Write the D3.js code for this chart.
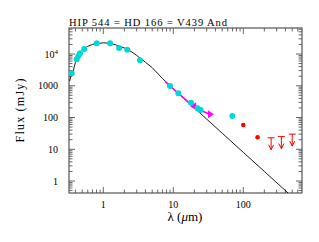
<!DOCTYPE html>
<html><head><meta charset="utf-8">
<script src="https://cdn.jsdelivr.net/npm/d3@7"></script>
<style>body{margin:0;background:#fff}svg{display:block}</style>
</head><body>
<script>
const title = "HIP 544 = HD 166 = V439 And";
const xTicks = [1, 10, 100];
const xTickLabels = ["1", "10", "100"];
const yTicks = [1, 10, 100, 1000, 10000];
const yTickLabels = ["1", "10", "100", "1000", "10^4"];

const modelLam = [0.33, 0.345, 0.36, 0.365, 0.37, 0.38, 0.40, 0.43, 0.47, 0.52, 0.6, 0.7, 0.85, 1.0, 1.2, 1.5, 2.0, 2.5, 3.0, 4.0, 5.0, 7.0, 10, 20, 50, 100, 200, 436];
const modelFlux = [1400, 2000, 2500, 2100, 2300, 3600, 5500, 8000, 11000, 14000, 17500, 20000, 21500, 22500, 22000, 19500, 15500, 12000, 9000, 5500, 3700, 1700, 800, 200, 32, 8, 2, 0.42];

const photLam = [0.354, 0.417, 0.44, 0.465, 0.535, 0.805, 1.25, 1.68, 2.2, 3.34, 8.97, 11.8, 17.9, 22.3, 24.6, 69.7];
const photFlux = [2460, 6800, 8700, 10500, 14400, 21700, 21700, 15400, 13700, 6300, 980, 580, 293, 195, 173, 112];

const specLam = [7.6, 10, 12, 15, 18, 20, 25, 30, 33.4];
const specFlux = [1380, 800, 560, 365, 255, 215, 165, 138, 126];
const specMarkLam = [19.9, 33.4];
const specMarkFlux = [225, 126];

const farLam = [100, 160];
const farFlux = [58, 24];
const limLam = [250, 350, 500];
const limFlux = [23, 25, 30];

const W = 319, H = 242;
const svg = d3.select("body").append("svg").attr("width", W).attr("height", H);
const x = d3.scaleLog().domain([0.3236, 690]).range([69, 302]);
const y = d3.scaleLog().domain([0.419, 65900]).range([193, 28]);
const L = 69, R = 302, T = 28, B = 193;
const font = "Liberation Serif, DejaVu Serif, serif";

function minors(lo, hi) {
  const out = [];
  for (let e = Math.floor(Math.log10(lo)); e <= Math.ceil(Math.log10(hi)); e++) {
    for (let m = 1; m <= 9; m++) {
      const v = m * Math.pow(10, e);
      if (v >= lo && v <= hi) out.push({v, major: m === 1});
    }
  }
  return out;
}
const g = svg.append("g");
const xt = minors(0.3236, 690), yt = minors(0.419, 65900);
const tc = "#666";
xt.forEach(t => {
  const len = t.major ? 6 : 3.5;
  const px = x(t.v);
  g.append("line").attr("x1", px).attr("x2", px).attr("y1", B).attr("y2", B - len).attr("stroke", tc).attr("stroke-width", 1);
  g.append("line").attr("x1", px).attr("x2", px).attr("y1", T).attr("y2", T + len).attr("stroke", tc).attr("stroke-width", 1);
});
yt.forEach(t => {
  const len = t.major ? 6 : 3.5;
  const py = y(t.v);
  g.append("line").attr("y1", py).attr("y2", py).attr("x1", L).attr("x2", L + len).attr("stroke", tc).attr("stroke-width", 1);
  g.append("line").attr("y1", py).attr("y2", py).attr("x1", R).attr("x2", R - len).attr("stroke", tc).attr("stroke-width", 1);
});
svg.append("rect").attr("x", L).attr("y", T).attr("width", R - L).attr("height", B - T)
  .attr("fill", "none").attr("stroke", "#555").attr("stroke-width", 1.2);

xTicks.forEach((v, i) => {
  svg.append("text").attr("x", x(v)).attr("y", 208).attr("text-anchor", "middle")
    .attr("font-family", font).attr("font-size", 10).text(xTickLabels[i]);
});
yTicks.forEach((v, i) => {
  const t = svg.append("text").attr("x", 58).attr("y", y(v) + 3.5).attr("text-anchor", "end")
    .attr("font-family", font).attr("font-size", 10);
  const lab = yTickLabels[i];
  if (lab.includes("^")) {
    const [b, e] = lab.split("^");
    t.append("tspan").text(b);
    t.append("tspan").attr("dy", -4).attr("font-size", 7).text(e);
  } else t.text(lab);
});

svg.append("text").attr("x", 69).attr("y", 26).attr("font-family", font).attr("font-size", 10.5)
  .attr("textLength", 158).attr("lengthAdjust", "spacing").text(title);
svg.append("text").attr("transform", "translate(24,110.5) rotate(-90)").attr("text-anchor", "middle")
  .attr("font-family", font).attr("font-size", 12).attr("textLength", 64).attr("lengthAdjust", "spacing").text("Flux (mJy)");
const xl = svg.append("text").attr("x", 185).attr("y", 221).attr("text-anchor", "middle")
  .attr("font-family", font).attr("font-size", 13);
xl.append("tspan").text("λ  (");
xl.append("tspan").attr("font-style", "italic").text("μ");
xl.append("tspan").text("m)");

svg.append("clipPath").attr("id", "c").append("rect").attr("x", L).attr("y", T).attr("width", R - L).attr("height", B - T);

const model = modelLam.map((l, i) => [l, modelFlux[i]]);
svg.append("path").attr("clip-path", "url(#c)").attr("d", d3.line().x(d => x(d[0])).y(d => y(d[1]))(model))
  .attr("fill", "none").attr("stroke", "#000").attr("stroke-width", 0.9);

const spec = specLam.map((l, i) => [l, specFlux[i]]);
svg.append("path").attr("d", d3.line().x(d => x(d[0])).y(d => y(d[1]))(spec))
  .attr("fill", "none").attr("stroke", "#ff00ff").attr("stroke-width", 1.6);
specMarkLam.forEach((l, i) => {
  const px = x(l), py = y(specMarkFlux[i]);
  const dir = i === 0 ? -1 : 1;
  svg.append("path").attr("d", `M${px + dir * 4},${py} L${px - dir * 2},${py - 4} L${px - dir * 2},${py + 4} Z`)
    .attr("fill", "#ff00ff");
});

svg.selectAll("circle.p").data(photLam).enter().append("circle")
  .attr("cx", d => x(d)).attr("cy", (d, i) => y(photFlux[i])).attr("r", 3).attr("fill", "#00d8d8");
svg.selectAll("circle.r").data(farLam).enter().append("circle")
  .attr("cx", d => x(d)).attr("cy", (d, i) => y(farFlux[i])).attr("r", 2.3).attr("fill", "#ff0000");

limLam.forEach((l, i) => {
  const px = x(l), py = y(limFlux[i]);
  svg.append("line").attr("x1", px - 3.5).attr("x2", px + 3.5).attr("y1", py).attr("y2", py).attr("stroke", "#ff0000");
  svg.append("line").attr("x1", px).attr("x2", px).attr("y1", py).attr("y2", py + 12).attr("stroke", "#ff0000");
  svg.append("path").attr("d", `M${px - 2.5},${py + 7} L${px},${py + 12} L${px + 2.5},${py + 7}`)
    .attr("fill", "none").attr("stroke", "#ff0000");
});
</script>
</body></html>
